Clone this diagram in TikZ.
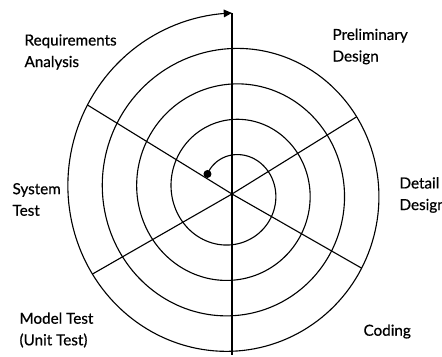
\documentclass[tikz,border=0pt]{standalone}
\usepackage{fontspec}
\setmainfont{Lato}[FakeBold=0.6]
\usetikzlibrary{arrows.meta}
\newcommand\spx[1]{232+0.97*(36+0.098611*(#1))*sin(#1)}
\newcommand\spy[1]{191-(36+0.098611*(#1))*cos(#1)}
\begin{document}
\begin{tikzpicture}[x=0.03cm,y=-0.03cm,line width=0.95pt,line join=round,
  lbl/.style={anchor=west,align=left,inner sep=0pt,font=\fontsize{13}{18.4}\selectfont},
  spoke/.style={line width=0.95pt}]
\useasboundingbox (0,0) rectangle (442,356);
% spiral
\coordinate (S) at ({\spx{-56}},{\spy{-56}});
\coordinate (O) at (232,194);
\coordinate (ur) at ({\spx{1140}},{\spy{1140}});
\coordinate (lr) at ({\spx{1200}},{\spy{1200}});
\coordinate (ll) at ({\spx{1320}},{\spy{1320}});
\coordinate (ul) at ({\spx{1380}},{\spy{1380}});
\coordinate (top) at ({\spx{1440}},{\spy{1440}});
\coordinate (bot) at (232,355);
\draw[-{Triangle[length=7pt,width=6.5pt]}] plot[variable=\t,domain=-56:1440,samples=700] ({\spx{\t}},{\spy{\t}});
\fill (S) circle (4);
% spokes
\draw[spoke] (O) -- (top);
\draw[spoke] (O) -- (bot);
\draw[spoke] (O) -- (ur);
\draw[spoke] (O) -- (lr);
\draw[spoke] (O) -- (ll);
\draw[spoke] (O) -- (ul);
% labels
\node[lbl] (req) at (24,52) {Requirements\\Analysis};
\node[lbl] (pre) at (332,46.5) {Preliminary\\Design};
\node[lbl] (det) at (399,195) {Detail\\Design};
\node[lbl] (sys) at (12,199.5) {System\\Test};
\node[lbl] (mod) at (19,330) {Model Test\\(Unit Test)};
\node[lbl] (cod) at (363,331.5) {Coding};
\end{tikzpicture}
\end{document}
